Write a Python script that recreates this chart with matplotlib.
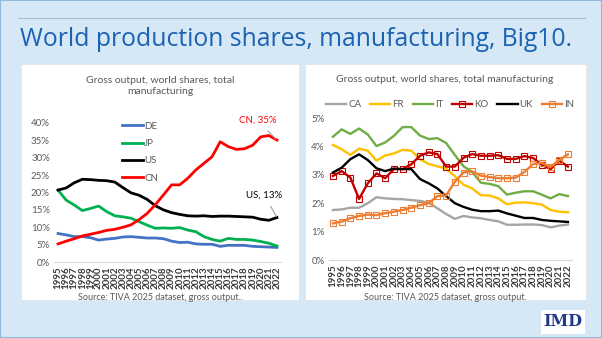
import matplotlib
matplotlib.use("Agg")
import matplotlib.pyplot as plt
from matplotlib.patches import Rectangle
from matplotlib.lines import Line2D
from matplotlib.ticker import PercentFormatter

# ── data ──
years = list(range(1995, 2023))

de = [8.2, 7.8, 7.3, 7.3, 7.0, 6.3, 6.6, 6.8, 7.2, 7.3, 7.1, 6.9, 6.9, 6.7,
      6.0, 5.6, 5.7, 5.2, 5.1, 5.1, 4.5, 4.8, 4.8, 4.8, 4.5, 4.4, 4.3, 4.2]
jp = [20.7, 17.8, 16.4, 14.8, 15.4, 16.1, 14.5, 13.3, 13.0, 12.6, 11.6, 10.6,
      9.7, 9.8, 9.7, 9.9, 9.2, 8.7, 7.3, 6.5, 6.0, 6.8, 6.5, 6.5, 6.3, 5.9,
      5.4, 4.6]
us = [20.7, 21.3, 22.8, 23.8, 23.7, 23.5, 23.4, 23.0, 21.4, 19.9, 19.2, 18.0,
      16.2, 15.0, 14.2, 13.7, 13.3, 13.2, 13.3, 13.1, 13.2, 13.2, 13.1, 13.0,
      12.9, 12.3, 12.0, 12.8]
cn = [5.2, 6.0, 6.7, 7.5, 8.0, 8.5, 9.1, 9.4, 10.0, 10.7, 12.2, 14.0, 16.5,
      19.3, 22.2, 22.2, 24.1, 26.5, 28.4, 30.3, 34.6, 33.2, 32.4, 32.6, 33.6,
      36.0, 36.4, 35.1]

ca = [1.76, 1.78, 1.84, 1.84, 2.00, 2.21, 2.17, 2.15, 2.14, 2.11, 2.08, 2.02,
      1.82, 1.62, 1.45, 1.55, 1.50, 1.47, 1.41, 1.36, 1.24, 1.24, 1.25, 1.25,
      1.23, 1.15, 1.21, 1.25]
fr = [4.05, 3.90, 3.70, 3.92, 3.85, 3.50, 3.68, 3.75, 3.88, 3.85, 3.55, 3.38,
      3.30, 3.22, 2.95, 2.65, 2.52, 2.28, 2.27, 2.17, 1.96, 2.02, 2.03, 2.00,
      1.95, 1.76, 1.70, 1.68]
it = [4.34, 4.60, 4.44, 4.63, 4.42, 4.01, 4.14, 4.37, 4.68, 4.68, 4.38, 4.26,
      4.29, 4.12, 3.70, 3.30, 3.10, 2.72, 2.68, 2.60, 2.30, 2.37, 2.42, 2.42,
      2.30, 2.17, 2.32, 2.25]
ko = [2.96, 3.13, 2.90, 2.15, 2.70, 3.05, 2.88, 3.20, 3.20, 3.37, 3.67, 3.79,
      3.73, 3.29, 3.29, 3.60, 3.73, 3.67, 3.67, 3.69, 3.56, 3.56, 3.66, 3.59,
      3.35, 3.20, 3.50, 3.29]
uk = [3.08, 3.25, 3.55, 3.72, 3.52, 3.23, 3.13, 3.22, 3.20, 3.20, 2.85, 2.70,
      2.52, 2.25, 2.00, 1.87, 1.77, 1.72, 1.72, 1.74, 1.64, 1.56, 1.48, 1.48,
      1.41, 1.38, 1.36, 1.34]
india = [1.29, 1.35, 1.47, 1.55, 1.60, 1.58, 1.65, 1.70, 1.76, 1.84, 1.93,
         2.00, 2.25, 2.27, 2.75, 3.08, 3.12, 2.97, 2.92, 2.88, 2.88, 2.90,
         3.10, 3.38, 3.42, 3.28, 3.52, 3.72]

TITLE = "World production shares, manufacturing, Big10."
LEFT_TITLE = "Gross output, world shares, total\nmanufacturing"
RIGHT_TITLE = "Gross output, world shares, total manufacturing"
LEFT_SOURCE = "Source: TIVA 2025 dataset, gross output.."
RIGHT_SOURCE = "Source: TIVA 2025 dataset, gross output."

# ── figure ──
W, H = 602, 338
BG = "#d6e8f5"
GREY_TXT = "#595959"
FONT = "Lato"

fig = plt.figure(figsize=(W / 100, H / 100), dpi=100, facecolor=BG)


def rect(x0, y0, x1, y1):
    """pixel box (top-down y) -> figure fraction [l, b, w, h]"""
    return [x0 / W, 1 - y1 / H, (x1 - x0) / W, (y1 - y0) / H]


def fx(x):
    return x / W


def fy(y):
    return 1 - y / H


# outer border, rule and title
fig.patches.append(Rectangle((0, 0), 1, 1, transform=fig.transFigure,
                             fill=False, ec="#8fb8dc", lw=1.5, zorder=-10))
fig.add_artist(Line2D([fx(18), fx(585)], [fy(18), fy(18)],
                      transform=fig.transFigure, color="#9fbfd8", lw=0.8))
fig.text(fx(20), fy(40), TITLE, ha="left", va="center", fontsize=17.8,
         color="#1b62b3", family="Open Sans")

# white panels
for x0, x1 in [(21, 299), (305, 586)]:
    fig.patches.append(Rectangle((fx(x0), fy(300)), (x1 - x0) / W,
                                 (300 - 64) / H, transform=fig.transFigure,
                                 fc="white", ec="#e4e4e4", lw=0.6, zorder=-10))

# IMD logo
fig.patches.append(Rectangle((fx(541), fy(334)), 44 / W, 24 / H,
                             transform=fig.transFigure, fc="white", ec="none",
                             zorder=-10))
fig.text(fx(563), fy(321), "IMD", ha="center", va="center", fontsize=11.5,
         fontweight="bold", color="#1f3a8a", family="DejaVu Serif")


def style_axes(ax, ymax, step):
    ax.set_xlim(-0.5, len(years) - 0.5)
    ax.set_ylim(0, ymax)
    ax.set_xticks(range(len(years)))
    ax.set_xticklabels([str(y) for y in years], rotation=90, fontsize=7,
                       fontweight="bold", color="#3a3a3a", family=FONT)
    ax.set_yticks([i * step for i in range(int(round(ymax / step)) + 1)])
    ax.yaxis.set_major_formatter(PercentFormatter(decimals=0))
    for lab in ax.get_yticklabels():
        lab.set_fontsize(7)
        lab.set_color(GREY_TXT)
        lab.set_family(FONT)
    ax.tick_params(length=0, pad=3)
    for s in ("top", "right", "left"):
        ax.spines[s].set_visible(False)
    ax.spines["bottom"].set_color("#d9d9d9")
    ax.patch.set_alpha(0)


# ── left chart ──
axl = fig.add_axes(rect(54, 123, 281, 262))
x = list(range(len(years)))
axl.plot(x, de, color="#4472c4", lw=2.0, label="DE")
axl.plot(x, jp, color="#00b050", lw=2.0, label="JP")
axl.plot(x, us, color="black", lw=2.0, label="US")
axl.plot(x, cn, color="#ff0000", lw=2.0, label="CN")
style_axes(axl, 40, 5)
axl.legend(loc="upper left", bbox_to_anchor=(fx(113), fy(113)),
           bbox_transform=fig.transFigure, frameon=False, handlelength=2.2,
           handletextpad=0.1, labelspacing=0.85,
           prop={"family": FONT, "size": 7}, labelcolor=GREY_TXT)
axl.annotate(f"CN, {round(cn[-1])}%", xy=(x[-1], cn[-1]),
             xytext=(-14, 14), textcoords="offset points", ha="center",
             va="center", fontsize=7, color="#ff0000", family=FONT,
             arrowprops=dict(arrowstyle="-", color="#a0a0a0", lw=0.8,
                             shrinkA=3, shrinkB=1))
axl.annotate(f"US, {round(us[-1])}%", xy=(x[-1], us[-1]),
             xytext=(-9, 16), textcoords="offset points", ha="center",
             va="center", fontsize=7, color="black", family=FONT,
             arrowprops=dict(arrowstyle="-", color="#a0a0a0", lw=0.8,
                             shrinkA=3, shrinkB=1))
fig.text(fx(160), fy(86), LEFT_TITLE, ha="center", va="center", fontsize=7.5,
         color=GREY_TXT, family=FONT, linespacing=1.4)
fig.text(fx(160), fy(298), LEFT_SOURCE, ha="center", va="center",
         fontsize=6.5, color=GREY_TXT, family=FONT)

# ── right chart ──
axr = fig.add_axes(rect(328.6, 118, 572.3, 260))
axr.plot(x, ca, color="#a5a5a5", lw=1.7, label="CA")
axr.plot(x, fr, color="#ffc000", lw=1.7, label="FR")
axr.plot(x, it, color="#70ad47", lw=1.7, label="IT")
axr.plot(x, ko, color="#c00000", lw=1.7, marker="s", ms=4, mfc="none",
         mew=0.8, label="KO")
axr.plot(x, uk, color="black", lw=1.7, label="UK")
axr.plot(x, india, color="#ed7d31", lw=1.7, marker="s", ms=4, mfc="none",
         mew=0.8, label="IN")
style_axes(axr, 5, 1)
axr.legend(loc="center", bbox_to_anchor=(fx(450), fy(105)),
           bbox_transform=fig.transFigure, ncol=6, frameon=False,
           handlelength=2.1, handletextpad=0.2, columnspacing=0.9,
           prop={"family": FONT, "size": 7}, labelcolor=GREY_TXT)
fig.text(fx(445), fy(79), RIGHT_TITLE, ha="center", va="center",
         fontsize=7.5, color=GREY_TXT, family=FONT)
fig.text(fx(445), fy(298), RIGHT_SOURCE, ha="center", va="center",
         fontsize=6.5, color=GREY_TXT, family=FONT)

fig.savefig("out.png", dpi=100, facecolor=BG)
